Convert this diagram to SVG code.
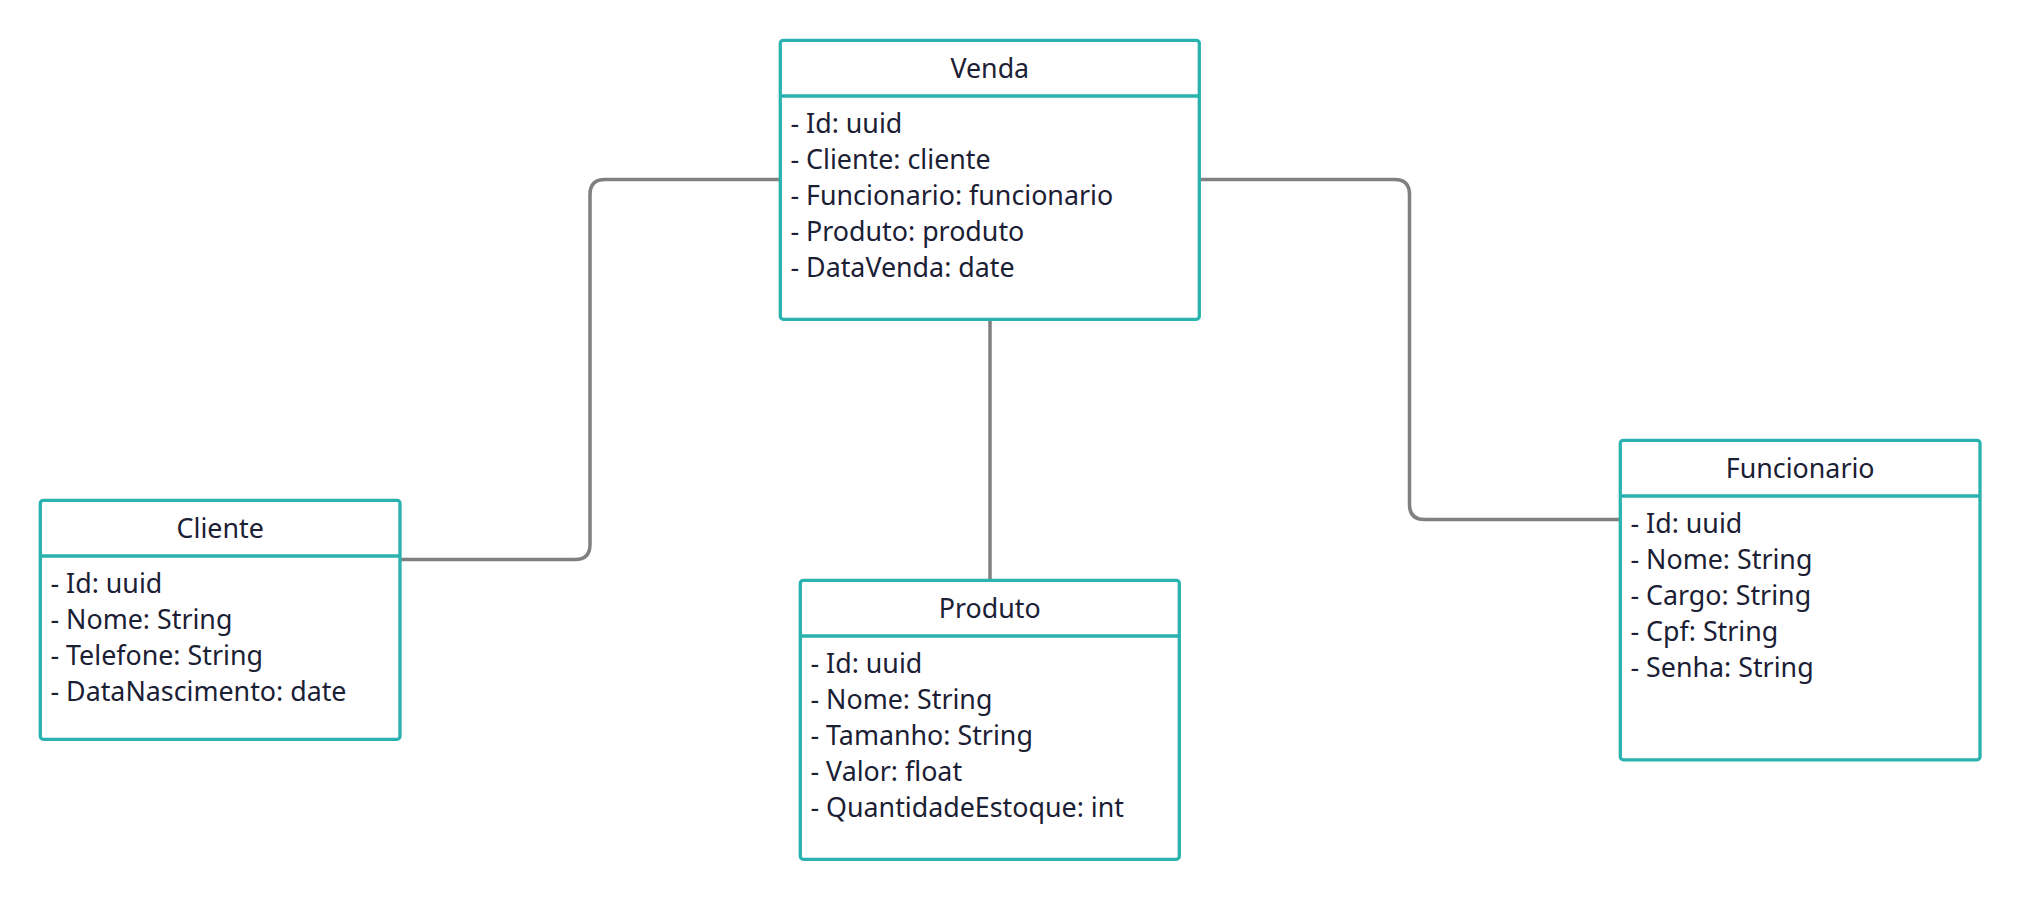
<svg xmlns="http://www.w3.org/2000/svg" width="2020" height="900" viewBox="0 0 2020 900">
<style>
.box{fill:#ffffff;stroke:#2ab2ae;stroke-width:3.3}
.div{stroke:#2ab2ae;stroke-width:3.3}
.t{font-family:"Noto Sans","Open Sans",sans-serif;font-size:26.8px;fill:#1b2034}
.c{text-anchor:middle}
.conn{fill:none;stroke:#808080;stroke-width:3.5}
</style>
<rect width="2020" height="900" fill="#ffffff"/>
<g id="connectors">
<path class="conn" d="M780,179.5 H605 Q590,179.5 590,194.5 V544.5 Q590,559.5 575,559.5 H400"/>
<path class="conn" d="M1199.5,179.5 H1394.5 Q1409.5,179.5 1409.5,194.5 V504.5 Q1409.5,519.5 1424.5,519.5 H1620"/>
<path class="conn" d="M990,319.5 V580"/>
</g>
<g id="venda">
<rect class="box" x="780.3" y="40.3" width="419" height="279" rx="3"/>
<line class="div" x1="780.3" y1="96" x2="1199.3" y2="96"/>
<text class="t c" x="989.8" y="78">Venda</text>
<text class="t" x="790.5" y="133.3">- Id: uuid</text>
<text class="t" x="790.5" y="169.3">- Cliente: cliente</text>
<text class="t" x="790.5" y="205">- Funcionario: funcionario</text>
<text class="t" x="790.5" y="241">- Produto: produto</text>
<text class="t" x="790.5" y="276.7">- DataVenda: date</text>
</g>
<g id="cliente">
<rect class="box" x="40.3" y="500.3" width="359.7" height="239" rx="3"/>
<line class="div" x1="40.3" y1="556" x2="400" y2="556"/>
<text class="t c" x="220.2" y="538">Cliente</text>
<text class="t" x="50.5" y="593.3">- Id: uuid</text>
<text class="t" x="50.5" y="629.3">- Nome: String</text>
<text class="t" x="50.5" y="665">- Telefone: String</text>
<text class="t" x="50.5" y="701">- DataNascimento: date</text>
</g>
<g id="produto">
<rect class="box" x="800.3" y="580.3" width="379" height="279" rx="3"/>
<line class="div" x1="800.3" y1="636" x2="1179.3" y2="636"/>
<text class="t c" x="989.8" y="618">Produto</text>
<text class="t" x="810.5" y="673.3">- Id: uuid</text>
<text class="t" x="810.5" y="709.3">- Nome: String</text>
<text class="t" x="810.5" y="745">- Tamanho: String</text>
<text class="t" x="810.5" y="781">- Valor: float</text>
<text class="t" x="810.5" y="816.7">- QuantidadeEstoque: int</text>
</g>
<g id="funcionario">
<rect class="box" x="1620.3" y="440.3" width="359.7" height="319.5" rx="3"/>
<line class="div" x1="1620.3" y1="496" x2="1980" y2="496"/>
<text class="t c" x="1800.2" y="478">Funcionario</text>
<text class="t" x="1630.5" y="533.3">- Id: uuid</text>
<text class="t" x="1630.5" y="569.3">- Nome: String</text>
<text class="t" x="1630.5" y="605">- Cargo: String</text>
<text class="t" x="1630.5" y="641">- Cpf: String</text>
<text class="t" x="1630.5" y="676.7">- Senha: String</text>
</g>
</svg>
